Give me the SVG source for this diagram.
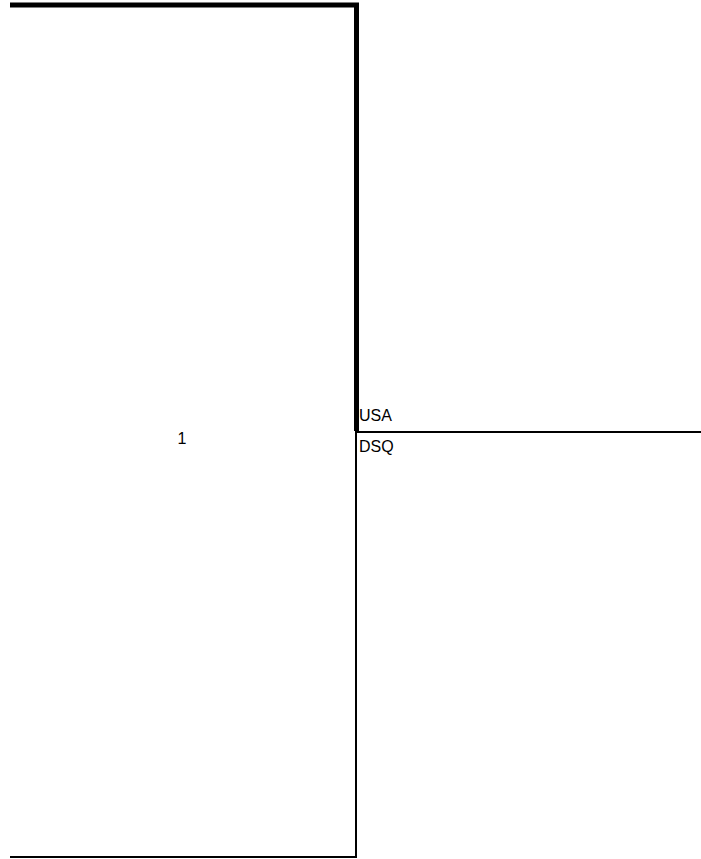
<svg xmlns="http://www.w3.org/2000/svg" width="701" height="859" viewBox="0 0 701 859">
<style>
.t{font-family:"Liberation Sans",Arial,sans-serif;font-size:16px;fill:#000}
.thick{stroke:#000;stroke-width:5;fill:none}
.thin{stroke:#000;stroke-width:2;fill:none}
</style>
<rect width="701" height="859" fill="#fff"/>
<g id="connectors">
<polyline class="thick" points="10,5 356.5,5 356.5,431"/>
<line class="thin" x1="355" y1="432" x2="701" y2="432"/>
<polyline class="thin" points="356,432 356,857 10,857"/>
</g>
<g id="node-1"><text class="t" x="182" y="444" text-anchor="middle">1</text></g>
<g id="node-usa"><text class="t" x="359" y="421">USA</text></g>
<g id="node-dsq"><text class="t" x="359" y="452">DSQ</text></g>
</svg>
